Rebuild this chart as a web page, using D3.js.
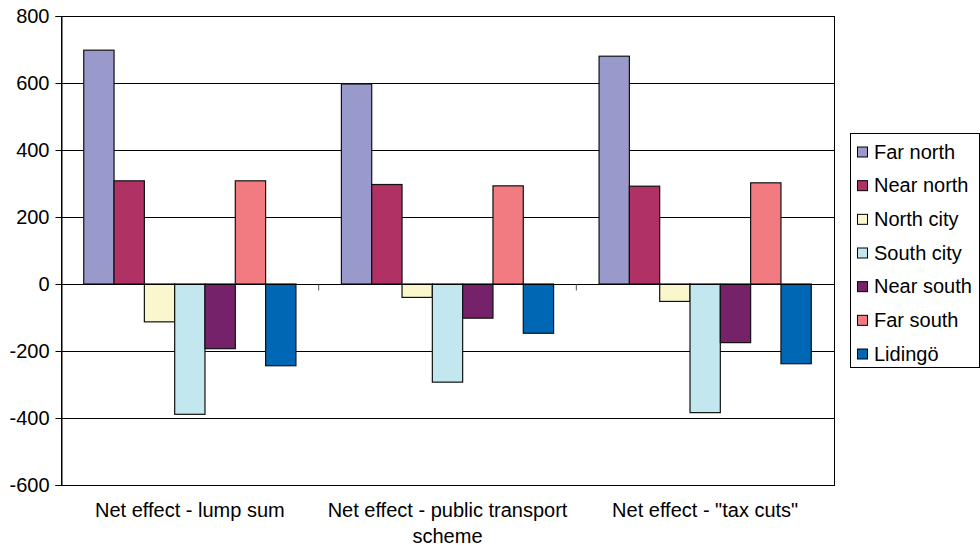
<!DOCTYPE html>
<html>
<head>
<meta charset="utf-8">
<script src="https://cdn.jsdelivr.net/npm/d3@7/dist/d3.min.js"></script>
<style>
  html, body { margin: 0; padding: 0; background: #fff; }
  svg text { font-family: "Liberation Sans", Arial, sans-serif; fill: #000; }
</style>
</head>
<body>
<svg id="chart" width="980" height="548"></svg>
<script>
// Scenarios on the x axis (labels may wrap onto a second line)
const categories = [
  ["Net effect - lump sum"],
  ["Net effect - public transport", "scheme"],
  ["Net effect - \"tax cuts\""]
];
const seriesNames = ["Far north", "Near north", "North city", "South city", "Near south", "Far south", "Lidingö"];
const seriesColors = ["#9999CC", "#B03163", "#FAF7CC", "#C2E7EE", "#76226A", "#F27B82", "#0067B4"];
// One row per scenario, one value per area
const lumpSum         = [698, 308, -113, -389, -193, 308, -244];
const publicTransport = [597, 297, -40, -293, -102, 293, -147];
const taxCuts         = [680, 292, -52, -384, -175, 302, -238];
const values = [lumpSum, publicTransport, taxCuts];
const yTicks = [-600, -400, -200, 0, 200, 400, 600, 800];

const FONT = 20;
const svg = d3.select("#chart");
const plot = { left: 61, right: 834, top: 16, bottom: 485 };

const x0 = d3.scaleBand()
  .domain(d3.range(categories.length))
  .range([plot.left, plot.right])
  .paddingInner(0).paddingOuter(0);

const x1 = d3.scaleBand()
  .domain(seriesNames)
  .range([0, x0.bandwidth()])
  .paddingInner(0).paddingOuter(0.75);

const y = d3.scaleLinear().domain([-600, 800]).range([plot.bottom, plot.top]);

// Horizontal gridlines
svg.append("g")
  .selectAll("line")
  .data(yTicks)
  .join("line")
  .attr("x1", plot.left).attr("x2", plot.right)
  .attr("y1", d => Math.round(y(d)) + 0.5).attr("y2", d => Math.round(y(d)) + 0.5)
  .attr("stroke", "#000").attr("stroke-width", 1);

// Plot frame
svg.append("rect")
  .attr("x", plot.left + 0.5).attr("y", Math.round(plot.top) + 0.5)
  .attr("width", plot.right - plot.left).attr("height", Math.round(plot.bottom) - Math.round(plot.top))
  .attr("fill", "none").attr("stroke", "#000").attr("stroke-width", 1);

// Bars
const groups = svg.append("g")
  .selectAll("g")
  .data(values)
  .join("g")
  .attr("transform", (d, i) => `translate(${x0(i)},0)`);

groups.selectAll("rect")
  .data(d => d.map((v, j) => ({ v, name: seriesNames[j], color: seriesColors[j] })))
  .join("rect")
  .attr("x", d => x1(d.name))
  .attr("width", x1.bandwidth())
  .attr("y", d => y(Math.max(0, d.v)))
  .attr("height", d => Math.abs(y(d.v) - y(0)))
  .attr("fill", d => d.color)
  .attr("stroke", "#111").attr("stroke-width", 1.2);

// Zero line with category dividers
const y0 = Math.round(y(0)) + 0.5;
svg.append("line")
  .attr("x1", plot.left).attr("x2", plot.right)
  .attr("y1", y0).attr("y2", y0)
  .attr("stroke", "#000");
svg.append("g")
  .selectAll("line")
  .data(d3.range(1, categories.length))
  .join("line")
  .attr("x1", i => x0(i)).attr("x2", i => x0(i))
  .attr("y1", y0).attr("y2", y0 + 6)
  .attr("stroke", "#555");

// Y axis (plain hyphen for negative numbers)
const yAxis = d3.axisLeft(y).tickValues(yTicks).tickSize(6).tickPadding(6).tickFormat(d => String(d));
const ya = svg.append("g")
  .attr("transform", `translate(${plot.left + 0.5},0)`)
  .call(yAxis);
ya.select(".domain").attr("stroke", "#000");
ya.selectAll(".tick line").attr("stroke", "#000");
ya.selectAll(".tick text")
  .attr("font-size", FONT)
  .attr("font-family", "Liberation Sans, Arial, sans-serif")
  .attr("fill", "#000");

// Category labels
const cat = svg.append("g")
  .selectAll("text")
  .data(categories)
  .join("text")
  .attr("text-anchor", "middle")
  .attr("font-size", FONT)
  .attr("x", (d, i) => x0(i) + x0.bandwidth() / 2)
  .attr("y", 517);
cat.selectAll("tspan")
  .data(d => d)
  .join("tspan")
  .attr("x", function () { return this.parentNode.getAttribute("x"); })
  .attr("dy", (d, i) => i === 0 ? 0 : 26)
  .text(d => d);

// Legend
const legend = svg.append("g");
legend.append("rect")
  .attr("x", 850.5).attr("y", 133.5)
  .attr("width", 129).attr("height", 234)
  .attr("fill", "#fff").attr("stroke", "#000");
const rowY = d3.scalePoint().domain(seriesNames).range([151.5, 353.5]);
const item = legend.selectAll("g")
  .data(seriesNames)
  .join("g")
  .attr("transform", d => `translate(0,${rowY(d)})`);
item.append("rect")
  .attr("x", 857.5).attr("y", -4.5)
  .attr("width", 10).attr("height", 10)
  .attr("fill", (d, i) => seriesColors[i])
  .attr("stroke", "#000").attr("stroke-width", 1);
item.append("text")
  .attr("x", 874)
  .attr("y", 7)
  .attr("font-size", FONT)
  .text(d => d);
</script>
</body>
</html>
